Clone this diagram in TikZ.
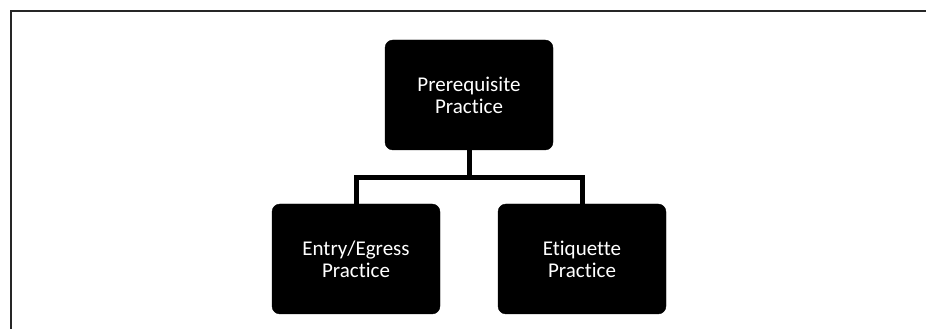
\documentclass[tikz,border=0pt]{standalone}
\usepackage{fontspec}
\setmainfont{Carlito}[Ligatures=NoCommon]
\usetikzlibrary{positioning}

\begin{document}
\begin{tikzpicture}
    [
        Stage/.style={rectangle, rounded corners=8pt, fill=black, draw=black, minimum width=168pt, minimum height=110pt, text=white, align=center, font=\fontsize{21}{22}\selectfont},
        Link/.style={draw=black, line width=5pt},
        Frame/.style={draw=black!85, line width=2pt}
    ]

    \useasboundingbox (0,0) rectangle (926pt,329pt);

    \coordinate (frame_top_left) at (11pt,318pt);
    \coordinate (frame_top_right) at (926pt,318pt);
    \coordinate (frame_bottom_left) at (11pt,0pt);
    \draw[Frame] (frame_top_right) -- (frame_top_left) -- (frame_bottom_left);

    \node[Stage] (prerequisite) at (469pt,234pt) {Prerequisite\\Practice};
    \node[Stage] (entry_egress) at (356pt,70pt) {Entry/Egress\\Practice};
    \node[Stage] (etiquette) at (582pt,70pt) {Etiquette\\Practice};

    \draw[Link] (prerequisite.south) -- ++(0,-27pt) coordinate (fork);
    \draw[Link] (entry_egress.north) |- (fork) -| (etiquette.north);
\end{tikzpicture}
\end{document}
